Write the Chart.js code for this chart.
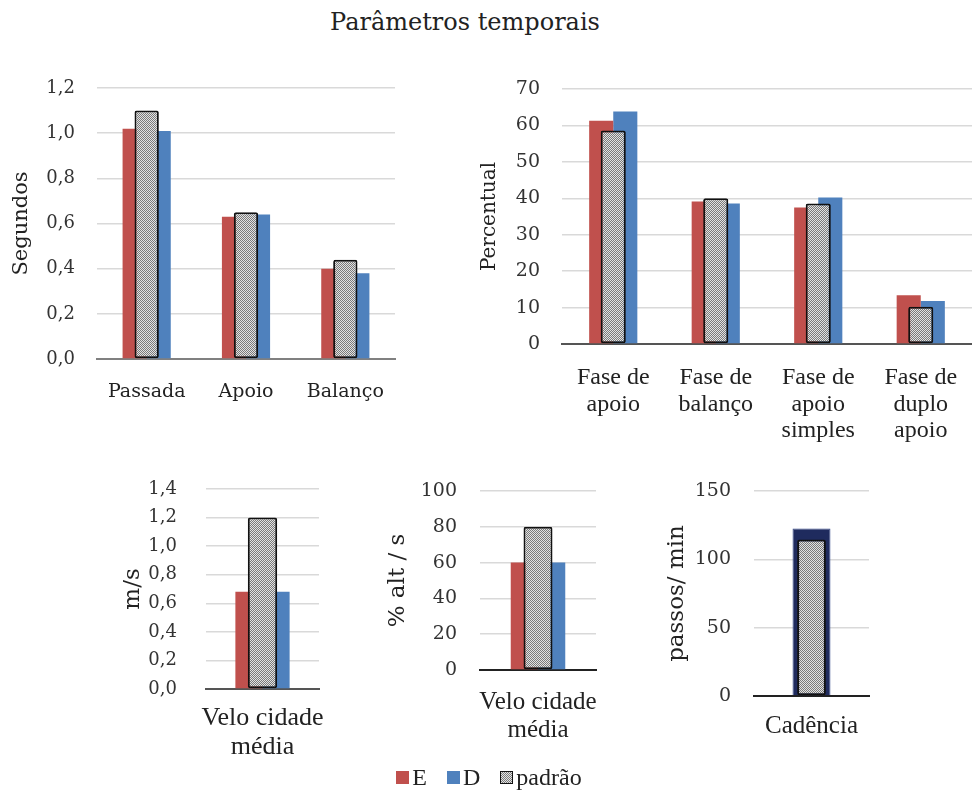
<!DOCTYPE html>
<html>
<head>
<meta charset="utf-8">
<script src="https://cdn.jsdelivr.net/npm/chart.js@4/dist/chart.umd.min.js"></script>
<style>
  body{margin:0;background:#fff;width:972px;height:792px;position:relative;overflow:hidden;font-family:'Liberation Serif',serif;color:#222}
  .box{position:absolute}
  #title{position:absolute;left:0;width:930px;top:8px;text-align:center;font-family:'DejaVu Serif',serif;font-size:24px;color:#222}
  #legend{position:absolute;top:762px;left:0;width:972px;text-align:center;font-size:24px;color:#222}
  #legend span{display:inline-block;vertical-align:middle}
  .sw{width:13px;height:13px;margin:0 3px 0 6px}
</style>
</head>
<body>
<div id="title">Parâmetros temporais</div>
<div class="box" style="left:0;top:76px"><canvas id="c1" width="401" height="333"></canvas></div>
<div class="box" style="left:470px;top:77px"><canvas id="c2" width="502" height="397"></canvas></div>
<div class="box" style="left:110px;top:477px"><canvas id="c3" width="239" height="290"></canvas></div>
<div class="box" style="left:375px;top:479px"><canvas id="c4" width="251" height="266"></canvas></div>
<div class="box" style="left:655px;top:479px"><canvas id="c5" width="244" height="267"></canvas></div>
<div id="legend">
  <span class="sw" style="background:#c0504d"></span><span>E</span>
  <span class="sw" style="background:#4f81bd;margin-left:14px"></span><span>D</span>
  <span class="sw" style="margin-left:14px;border:1px solid #111;width:11px;height:11px" id="swP"></span><span>padrão</span>
</div>
<script>
// tempos (s)
const cat1=['Passada','Apoio','Balanço'];
const e1=[1.02,0.63,0.40];
const d1=[1.01,0.64,0.38];
const p1=[1.10,0.65,0.44];
// fases (%)
const cat2=[['Fase de','apoio'],['Fase de','balanço'],['Fase de','apoio','simples'],['Fase de','duplo','apoio']];
const e2=[61.3,39.1,37.5,13.4];
const d2=[63.8,38.6,40.2,11.8];
const p2=[58.6,40.0,38.6,10.2];
// velocidade m/s
const cat3=[['Velo cidade','média']];
const e3=[0.68];
const d3=[0.68];
const p3=[1.2];
// velocidade %alt/s
const cat4=[['Velo cidade','média']];
const e4=[60];
const d4=[60];
const p4=[80];
// cadencia
const cat5=['Cadência'];
const c5=[122.5];
const p5=[114.5];

const RED='#c0504d',BLUE='#4f81bd',NAVY='#1f2b5e';
const SERIF="'Liberation Serif', serif";
const DJ="'DejaVu Serif', serif";

function makePattern(){
  const pc=document.createElement('canvas');pc.width=2;pc.height=2;
  const g=pc.getContext('2d');
  g.fillStyle='#e2e2e2';g.fillRect(0,0,2,2);
  g.fillStyle='#7a7a7a';g.fillRect(0,0,1,1);g.fillRect(1,1,1,1);
  return g.createPattern(pc,'repeat');
}
const pattern=makePattern();
document.getElementById('swP').style.background='repeating-conic-gradient(#7a7a7a 0 25%, #e2e2e2 0 50%) 0 0/2px 2px';

function build(id,o){
  const ds=[];
  if(o.e) ds.push({label:'E',data:o.e,backgroundColor:RED,order:1,categoryPercentage:o.grp,barPercentage:1});
  if(o.d) ds.push({label:'D',data:o.d,backgroundColor:BLUE,order:1,categoryPercentage:o.grp,barPercentage:1});
  if(o.c) ds.push({label:'Cadência',data:o.c,backgroundColor:NAVY,borderColor:'#34488a',borderWidth:1,order:1,categoryPercentage:o.grp,barPercentage:1});
  ds.push({label:'padrão',data:o.p,backgroundColor:pattern,borderColor:'#111',borderWidth:2,borderRadius:2,borderSkipped:false,grouped:false,order:0,categoryPercentage:o.pw,barPercentage:1});
  new Chart(document.getElementById(id),{
    type:'bar',
    data:{labels:o.labels,datasets:ds},
    options:{
      responsive:false,animation:false,devicePixelRatio:1,
      layout:{padding:{left:o.padL,top:12,right:o.padR||0,bottom:0}},
      plugins:{legend:{display:false},tooltip:{enabled:false}},
      scales:{
        x:{grid:{display:false},border:{display:true,color:o.axisColor,width:2},
           ticks:{color:'#222',padding:o.xPad,font:{family:o.xFont||SERIF,size:o.xSize,lineHeight:o.xLh||1.2}},
           afterFit:s=>{s.height=o.xH;}},
        y:{min:0,max:o.max,border:{display:false},
           grid:{color:'#d9d9d9',lineWidth:1.5,drawTicks:true,tickLength:o.yPad,tickColor:'rgba(0,0,0,0)'},
           ticks:{stepSize:o.step,autoSkip:false,color:'#333',padding:0,font:{family:DJ,size:o.ySize},
                  callback:v=>o.dec?v.toFixed(1).replace('.',','):String(v)},
           title:{display:true,text:o.title,color:'#222',font:{family:DJ,size:o.tSize},padding:{top:4,bottom:4}},
           afterFit:s=>{s.width=o.yW;}}
      }
    }
  });
}

build('c1',{labels:cat1,e:e1,d:d1,p:p1,grp:0.485,pw:0.245,max:1.2,step:0.2,dec:true,title:'Segundos',tSize:21,ySize:18,xFont:DJ,xSize:19,xPad:14,xH:50,yPad:22,yW:92,padL:5,padR:6,axisColor:'#808080'});
build('c2',{labels:cat2,e:e2,d:d2,p:p2,grp:0.47,pw:0.245,max:70,step:10,dec:false,title:'Percentual',tSize:20,ySize:19,xSize:24,xLh:1.1,xPad:13,xH:130,yPad:22,yW:88,padL:4,axisColor:'#555'});
build('c3',{labels:cat3,e:e3,d:d3,p:p3,grp:0.48,pw:0.26,max:1.4,step:0.2,dec:true,title:'m/s',tSize:23,ySize:18,xSize:26,xLh:1.1,xPad:7,xH:78,yPad:29,yW:91,padL:5,padR:30,axisColor:'#555'});
build('c4',{labels:cat4,e:e4,d:d4,p:p4,grp:0.47,pw:0.25,max:100,step:20,dec:false,title:'% alt / s',tSize:23,ySize:19,xSize:25,xLh:1.1,xPad:11,xH:75,yPad:23,yW:100,padL:5,padR:30,axisColor:'#222'});
build('c5',{labels:cat5,c:c5,p:p5,grp:0.33,pw:0.25,max:150,step:50,dec:false,title:'passos/ min',tSize:23,ySize:19,xSize:25,xPad:7,xH:50,yPad:23,yW:95,padL:4,padR:30,axisColor:'#222'});
</script>
</body>
</html>
